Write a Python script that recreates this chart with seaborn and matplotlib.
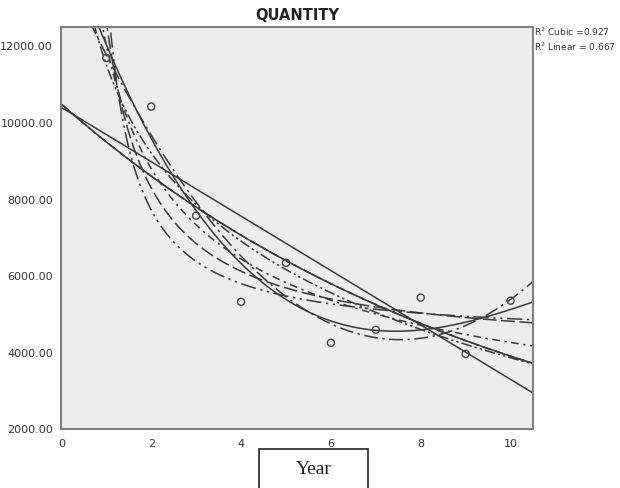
#!/usr/bin/env python3
"""
Curve estimation plot: QUANTITY vs Year, with several fitted models.
"""

import numpy as np
import pandas as pd
import matplotlib
matplotlib.use("Agg")
import matplotlib.pyplot as plt
import seaborn as sns

# Observed data
years = [1, 2, 3, 4, 5, 6, 7, 8, 9, 10]
quantity = [11700, 10430, 7580, 5330, 6350, 4260, 4600, 5440, 3970, 5360]

y_ticks = [2000, 4000, 6000, 8000, 10000, 12000]
x_ticks = [0, 2, 4, 6, 8, 10]

LINE = '#3a3a3a'

sns.set_style("white")
plt.rcParams['font.family'] = ['DejaVu Sans']

x = np.array(years, dtype=float)
y = np.array(quantity, dtype=float)
grid = np.linspace(0.02, 10.5, 600)


def fit_models():
    """Ajusta os modelos do SPSS (curve estimation)."""
    curves = {}
    b = np.polyfit(x, y, 1)
    curves['Linear'] = np.polyval(b, grid)
    b = np.polyfit(np.log(x), y, 1)
    curves['Logarithmic'] = np.polyval(b, np.log(grid))
    b = np.polyfit(1 / x, y, 1)
    curves['Inverse'] = np.polyval(b, 1 / grid)
    b = np.polyfit(x, y, 2)
    curves['Quadratic'] = np.polyval(b, grid)
    b = np.polyfit(x, y, 3)
    curves['Cubic'] = np.polyval(b, grid)
    b = np.polyfit(x, np.log(y), 1)
    curves['Compound'] = np.exp(np.polyval(b, grid))
    curves['Growth'] = curves['Compound']
    curves['Exponential'] = curves['Compound']
    b = np.polyfit(np.log(x), np.log(y), 1)
    curves['Power'] = np.exp(np.polyval(b, np.log(grid)))
    b = np.polyfit(1 / x, np.log(y), 1)
    curves['S'] = np.exp(np.polyval(b, 1 / grid))
    return curves


styles = {
    'Linear': '-',
    'Logarithmic': (0, (7, 2, 1.5, 2, 1.5, 2)),
    'Inverse': (0, (9, 3)),
    'Quadratic': (0, (9, 3, 1.5, 3)),
    'Cubic': '-',
    'Compound': '-',
    'Growth': (0, (5, 3)),
    'Exponential': (0, (1.5, 3)),
    'Power': (0, (5, 3, 1.5, 3)),
    'S': (0, (10, 3, 1.5, 3, 1.5, 3)),
}

fig = plt.figure(figsize=(6.2, 4.88), dpi=100)
ax = fig.add_axes([0.099, 0.1203, 0.7607, 0.8237])
ax.set_facecolor('#ededed')

curves = fit_models()
for name, vals in curves.items():
    df_c = pd.DataFrame({'Year': grid, 'QUANTITY': vals})
    df_c = df_c[(df_c['QUANTITY'] < 14000)]
    sns.lineplot(data=df_c, x='Year', y='QUANTITY', ax=ax, color=LINE,
                 linewidth=1.1, linestyle=styles[name], sort=True)

df = pd.DataFrame({'Year': years, 'QUANTITY': quantity})
sns.scatterplot(data=df, x='Year', y='QUANTITY', ax=ax, marker='o', s=26,
                facecolor='none', edgecolor='#444444', linewidth=1.0, zorder=5)

ax.set_xlim(0, 10.5)
ax.set_ylim(2000, 12500)
ax.set_xticks(x_ticks)
ax.set_yticks(y_ticks)
ax.set_yticklabels([f'{v:.2f}' for v in y_ticks])
ax.tick_params(axis='both', direction='out', length=5, width=1.2,
               color='#777777', labelsize=8, labelcolor='#333333', pad=1)
ax.tick_params(axis='x', pad=2)
for sp in ax.spines.values():
    sp.set_color('#808080')
    sp.set_linewidth(1.5)
ax.set_xlabel('')
ax.set_ylabel('')

ax.set_title('QUANTITY', fontsize=10.5, fontweight='bold', color='#222222', pad=5)

fig.text(0.862, 0.935, 'R$^2$ Cubic =0.927', fontsize=6.5, color='#333333',
         ha='left', va='center')
fig.text(0.862, 0.905, 'R$^2$ Linear = 0.667', fontsize=6.5, color='#333333',
         ha='left', va='center')

# Caixa do rótulo "Year"
fig.patches.append(plt.Rectangle((259 / 620, -0.05), 109 / 620, 1 - 449 / 488 + 0.05,
                                 transform=fig.transFigure, fill=False,
                                 edgecolor='#222222', linewidth=1.2))
fig.text(314 / 620, 1 - 470 / 488, 'Year', fontsize=14, family='Liberation Serif',
         ha='center', va='center', color='#222222')

plt.savefig('out.png', dpi=100)
plt.close()
